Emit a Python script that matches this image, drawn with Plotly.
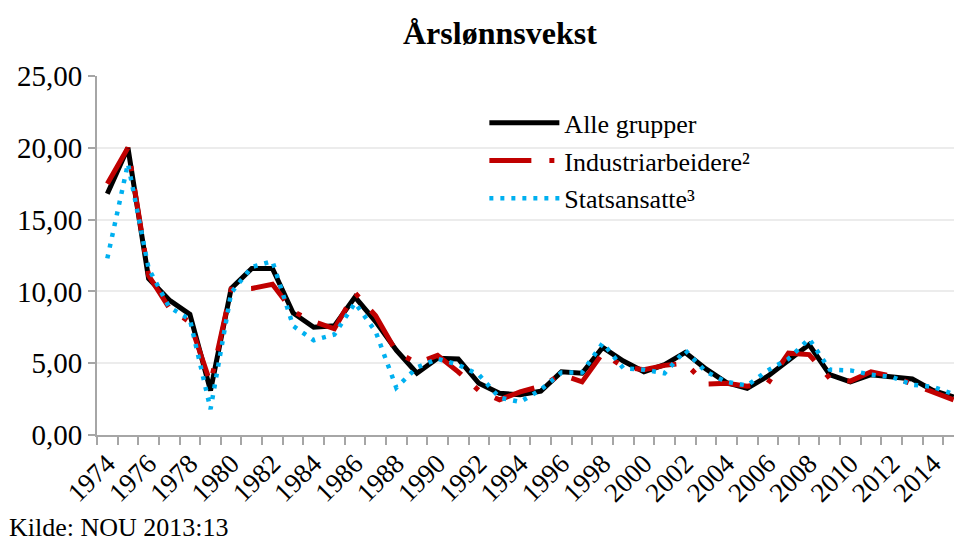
import plotly.graph_objects as go

# Årslønnsvekst, prosent (lest av figuren)
years = list(range(1974, 2016))

alle_grupper = [16.8, 20.0, 10.9, 9.4, 8.4, 3.1, 10.2, 11.6, 11.6, 8.5,
                7.5, 7.6, 9.6, 7.9, 5.9, 4.3, 5.35, 5.3, 3.6, 2.9,
                2.8, 3.05, 4.4, 4.3, 6.1, 5.15, 4.4, 4.9, 5.75, 4.6,
                3.65, 3.25, 4.1, 5.25, 6.3, 4.2, 3.7, 4.2, 4.05, 3.9,
                3.1, 2.65]

industriarbeidere = [17.5, 20.0, 11.1, 8.85, 7.85, 3.6, 10.15, 10.2, 10.5, 8.6,
                     7.9, 7.4, 9.9, 8.3, 5.8, 5.0, 5.55, 4.4, 3.1, 2.45,
                     3.0, 3.4, 4.2, 3.7, 5.7, 4.75, 4.55, 4.85, 5.0, 3.55,
                     3.6, 3.4, 3.6, 5.7, 5.6, 3.95, 3.75, 4.4, 4.1, 3.55,
                     3.05, 2.45]

statsansatte = [12.3, 18.9, 11.6, 8.9, 8.05, 1.8, 9.9, 11.7, 12.1, 7.6,
                6.6, 7.0, 9.2, 7.2, 3.3, 4.7, 5.3, 4.9, 4.2, 2.6,
                2.3, 3.15, 4.35, 4.35, 6.4, 4.65, 4.55, 4.3, 5.9, 4.4,
                3.7, 3.45, 4.5, 5.3, 6.7, 4.55, 4.5, 4.2, 4.05, 3.5,
                3.35, 2.85]

y_ticks = [0, 5, 10, 15, 20, 25]
y_labels = ["0,00", "5,00", "10,00", "15,00", "20,00", "25,00"]
x_ticks = list(range(1974, 2015, 2))

serif = "Liberation Serif"
axis_grey = "#a6a6a6"

fig = go.Figure()
fig.add_trace(go.Scatter(x=years, y=alle_grupper, name="Alle grupper",
                         mode="lines", legendgroup="a",
                         line=dict(color="black", width=5)))
fig.add_trace(go.Scatter(x=years, y=industriarbeidere, name="Industriarbeidere²",
                         mode="lines", legendgroup="b",
                         line=dict(color="#C00000", width=5,
                                   dash="42px,18px,5px,18px")))
fig.add_trace(go.Scatter(x=years, y=statsansatte, name="Statsansatte³",
                         mode="lines", legendgroup="c",
                         line=dict(color="#00B0F0", width=4.5, dash="4px,7px")))

fig.update_layout(
    width=954, height=542,
    margin=dict(l=97, r=0, t=76, b=107),
    paper_bgcolor="white", plot_bgcolor="white",
    font=dict(family=serif, color="black"),
    title=dict(text="<b>Årslønnsvekst</b>", font=dict(size=32, family=serif),
               xref="container", x=0.524, xanchor="center",
               yref="container", y=1 - 33 / 542, yanchor="middle"),
    legend=dict(x=0.452, y=0.935, xanchor="left", yanchor="top",
                bgcolor="rgba(0,0,0,0)", font=dict(size=26, family=serif),
                itemwidth=70, tracegroupgap=1),
    showlegend=True,
)

fig.update_xaxes(
    range=[1973.5, 2015.02], tickvals=x_ticks, ticks="",
    tickangle=-45, tickfont=dict(size=27, family=serif), automargin=False,
    showline=True, linecolor=axis_grey, linewidth=2,
    showgrid=False, zeroline=False,
    minor=dict(ticks="outside", tick0=1973.5, dtick=1, ticklen=8,
               tickcolor=axis_grey, tickwidth=1.5, showgrid=False),
)
fig.update_yaxes(
    range=[0, 25], tickvals=y_ticks, ticktext=y_labels,
    ticks="outside", ticklen=7, tickcolor=axis_grey, tickwidth=1.5,
    tickfont=dict(size=29, family=serif), automargin=False,
    showline=True, linecolor=axis_grey, linewidth=2,
    showgrid=True, gridcolor="#ececec", gridwidth=2, zeroline=False,
)

fig.add_annotation(text="Kilde: NOU 2013:13", xref="paper", yref="paper",
                   x=-97 / 857, y=-(527 - 435) / 359, xanchor="left",
                   yanchor="middle", xshift=7, showarrow=False,
                   font=dict(size=26, family=serif))

# the page's default body margin would push the figure 8px right and down
fig.write_html("out.html", config={"displayModeBar": False},
               post_script="document.body.style.margin='0';"
                           "document.body.style.overflow='hidden';")
